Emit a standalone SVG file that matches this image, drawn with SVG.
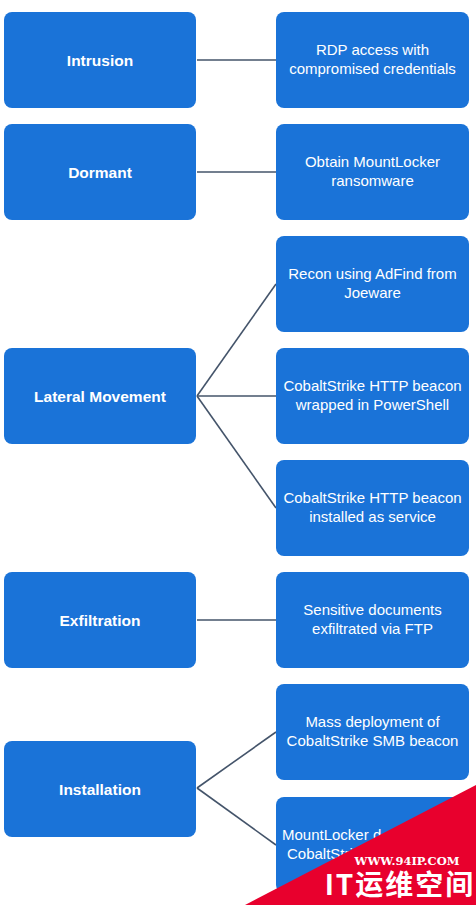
<svg xmlns="http://www.w3.org/2000/svg" width="476" height="905" viewBox="0 0 476 905">
<style>
.box{fill:#1a73d8;}
.lbl{font-family:"Liberation Sans",Arial,sans-serif;font-weight:bold;font-size:15.5px;fill:#ffffff;text-anchor:middle;}
.txt{font-family:"Liberation Sans",Arial,sans-serif;font-size:15px;fill:#ffffff;text-anchor:middle;}
.con{stroke:#44546a;stroke-width:1.6;fill:none;}
</style>
<rect width="476" height="905" fill="#ffffff"/>
<g id="connectors">
<line class="con" x1="197" y1="60" x2="276" y2="60"/>
<line class="con" x1="197" y1="172" x2="276" y2="172"/>
<line class="con" x1="197" y1="396" x2="276" y2="284"/>
<line class="con" x1="197" y1="396" x2="276" y2="396"/>
<line class="con" x1="197" y1="396" x2="276" y2="508"/>
<line class="con" x1="197" y1="620" x2="276" y2="620"/>
<line class="con" x1="197" y1="788" x2="276" y2="732"/>
<line class="con" x1="197" y1="788" x2="276" y2="845"/>
</g>
<g id="intrusion"><rect class="box" x="4" y="12" width="192" height="96" rx="8"/><text class="lbl" x="100" y="65.5">Intrusion</text></g>
<g id="dormant"><rect class="box" x="4" y="124" width="192" height="96" rx="8"/><text class="lbl" x="100" y="177.5">Dormant</text></g>
<g id="lateral"><rect class="box" x="4" y="348" width="192" height="96" rx="8"/><text class="lbl" x="100" y="401.5">Lateral Movement</text></g>
<g id="exfiltration"><rect class="box" x="4" y="572" width="192" height="96" rx="8"/><text class="lbl" x="100" y="625.5">Exfiltration</text></g>
<g id="installation"><rect class="box" x="4" y="741" width="192" height="96" rx="8"/><text class="lbl" x="100" y="794.5">Installation</text></g>
<g id="rdp"><rect class="box" x="276" y="12" width="193" height="96" rx="8"/><text class="txt" x="372.5" y="55">RDP access with</text><text class="txt" x="372.5" y="74">compromised credentials</text></g>
<g id="obtain"><rect class="box" x="276" y="124" width="193" height="96" rx="8"/><text class="txt" x="372.5" y="167">Obtain MountLocker</text><text class="txt" x="372.5" y="186">ransomware</text></g>
<g id="recon"><rect class="box" x="276" y="236" width="193" height="96" rx="8"/><text class="txt" x="372.5" y="279">Recon using AdFind from</text><text class="txt" x="372.5" y="298">Joeware</text></g>
<g id="cs-ps"><rect class="box" x="276" y="348" width="193" height="96" rx="8"/><text class="txt" x="372.5" y="391">CobaltStrike HTTP beacon</text><text class="txt" x="372.5" y="410">wrapped in PowerShell</text></g>
<g id="cs-svc"><rect class="box" x="276" y="460" width="193" height="96" rx="8"/><text class="txt" x="372.5" y="503">CobaltStrike HTTP beacon</text><text class="txt" x="372.5" y="522">installed as service</text></g>
<g id="sensitive"><rect class="box" x="276" y="572" width="193" height="96" rx="8"/><text class="txt" x="372.5" y="615">Sensitive documents</text><text class="txt" x="372.5" y="634">exfiltrated via FTP</text></g>
<g id="mass"><rect class="box" x="276" y="684" width="193" height="96" rx="8"/><text class="txt" x="372.5" y="727">Mass deployment of</text><text class="txt" x="372.5" y="746">CobaltStrike SMB beacon</text></g>
<g id="mountlocker"><rect class="box" x="276" y="797" width="193" height="96" rx="8"/><text class="txt" x="282" y="840" style="text-anchor:start">MountLocker d</text><text class="txt" x="287" y="859" style="text-anchor:start">CobaltStri</text></g>
<g id="watermark">
<polygon points="476,785 476,905 245,905" fill="#e8002d"/>
<text x="407" y="865" font-family="'DejaVu Serif','Liberation Serif',serif" font-weight="bold" font-size="11.5" fill="#ffffff" text-anchor="middle">WWW.94IP.COM</text>
<text x="400" y="895" font-family="'Noto Sans CJK SC',sans-serif" font-weight="bold" font-size="28" letter-spacing="2" fill="#ffffff" text-anchor="middle">IT运维空间</text>
</g>
</svg>
